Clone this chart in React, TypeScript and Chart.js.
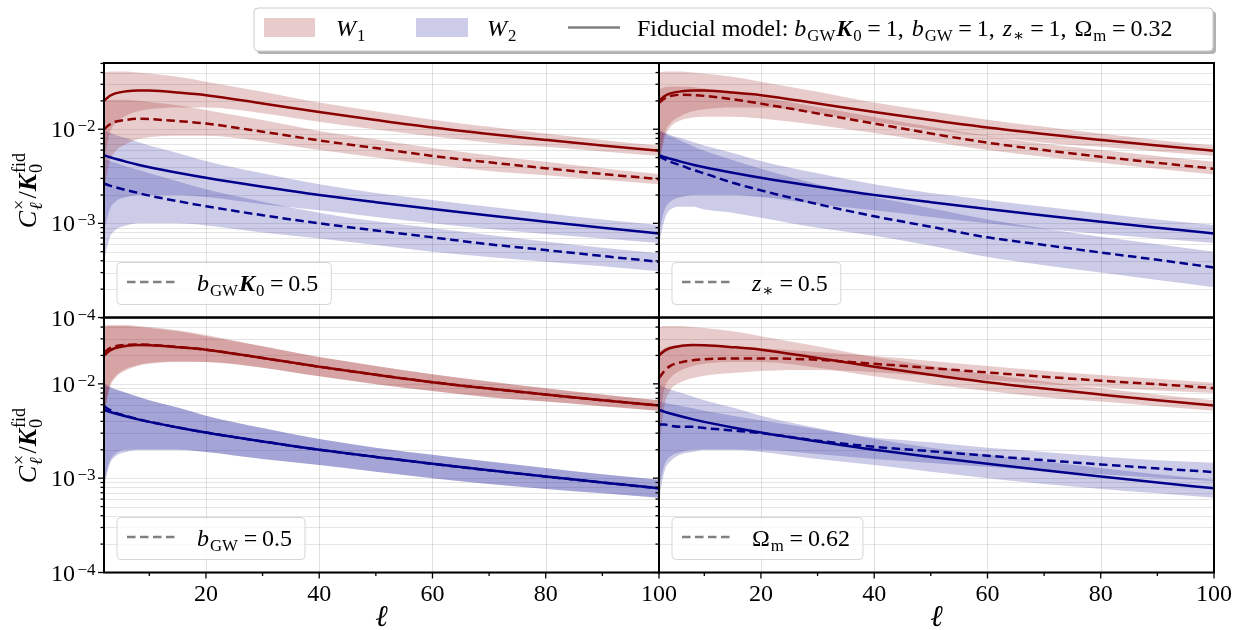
import React, { useEffect, useRef } from "react";
import { Chart, registerables } from "chart.js";
Chart.register(...registerables);

const W = 1247;
const H = 630;
const FAM = '"Liberation Serif", "Times New Roman", "DejaVu Serif", serif';

// multipole sample points
const ELL = [2, 3, 4, 6, 8, 10, 15, 20, 30, 40, 50, 60, 70, 80, 90, 100];

// Fiducial model (same in every panel)
const W1_FID = [0.0200, 0.0225, 0.0240, 0.0253, 0.0258, 0.0257, 0.0245, 0.0230, 0.0188, 0.0152, 0.0125, 0.0104, 0.0089, 0.0077, 0.0067, 0.0059];
const W1_FID_HI = [0.040, 0.041, 0.041, 0.041, 0.040, 0.039, 0.036, 0.032, 0.025, 0.0192, 0.0155, 0.0126, 0.0106, 0.0090, 0.0077, 0.0067];
const W1_FID_LO = [0.0045, 0.0090, 0.0115, 0.0140, 0.0155, 0.0163, 0.0170, 0.0170, 0.0148, 0.0120, 0.0099, 0.0084, 0.0072, 0.0065, 0.0058, 0.0052];
const W2_FID = [0.0053, 0.00505, 0.00485, 0.0045, 0.0042, 0.00395, 0.00345, 0.00305, 0.00245, 0.0020, 0.00168, 0.00142, 0.00121, 0.00104, 0.00090, 0.00078];
const W2_FID_HI = [0.0098, 0.0092, 0.0087, 0.0080, 0.0073, 0.0067, 0.0056, 0.0046, 0.0034, 0.0026, 0.0021, 0.00177, 0.00150, 0.00128, 0.00110, 0.00096];
const W2_FID_LO = [0.0008, 0.0014, 0.0017, 0.0019, 0.0020, 0.0020, 0.0020, 0.0019, 0.0016, 0.00138, 0.00117, 0.00100, 0.00087, 0.00077, 0.00069, 0.00062];

// Panel A: b_GW K_0 = 0.5
const W1_A = [0.0100, 0.0112, 0.0120, 0.0126, 0.0129, 0.0128, 0.0122, 0.0115, 0.0094, 0.0076, 0.0063, 0.0052, 0.00445, 0.00385, 0.00335, 0.00295];
const W1_A_HI = [0.0200, 0.0205, 0.0205, 0.0205, 0.0200, 0.0195, 0.0180, 0.0160, 0.0125, 0.0096, 0.0078, 0.0063, 0.0053, 0.0045, 0.00385, 0.00335];
const W1_A_LO = [0.0022, 0.0045, 0.0058, 0.0070, 0.0078, 0.0082, 0.0085, 0.0085, 0.0074, 0.0060, 0.0050, 0.0042, 0.0036, 0.00325, 0.0029, 0.0026];
const W2_A = [0.00265, 0.00252, 0.00242, 0.00225, 0.0021, 0.00197, 0.00172, 0.00152, 0.00122, 0.0010, 0.00084, 0.00071, 0.00060, 0.00052, 0.00045, 0.00039];
const W2_A_HI = [0.0049, 0.0046, 0.0044, 0.0040, 0.0037, 0.0034, 0.0028, 0.0023, 0.0017, 0.0013, 0.00105, 0.00089, 0.00075, 0.00064, 0.00055, 0.00048];
const W2_A_LO = [0.0004, 0.0007, 0.00085, 0.00095, 0.0010, 0.0010, 0.0010, 0.00095, 0.0008, 0.00069, 0.00059, 0.0005, 0.00044, 0.00039, 0.00035, 0.00031];

// Panel B: z_* = 0.5
const W1_B = [0.0190, 0.0212, 0.0225, 0.0232, 0.0231, 0.0226, 0.0208, 0.0187, 0.0147, 0.0115, 0.0090, 0.0072, 0.0060, 0.0051, 0.0044, 0.0038];
const W1_B_HI = [0.026, 0.028, 0.0285, 0.0285, 0.028, 0.027, 0.0245, 0.0220, 0.0172, 0.0135, 0.0106, 0.0085, 0.0070, 0.0060, 0.0052, 0.0045];
const W1_B_LO = [0.0040, 0.0080, 0.0105, 0.0125, 0.0133, 0.0136, 0.0136, 0.0130, 0.0111, 0.0091, 0.0074, 0.0060, 0.0051, 0.0044, 0.0038, 0.0033];
const W2_B = [0.0052, 0.0048, 0.0045, 0.0041, 0.0037, 0.0034, 0.0027, 0.00224, 0.0016, 0.00119, 0.00092, 0.00071, 0.00059, 0.00049, 0.00041, 0.00034];
const W2_B_HI = [0.0096, 0.0090, 0.0084, 0.0075, 0.0066, 0.0059, 0.0047, 0.0038, 0.0026, 0.0019, 0.00145, 0.00110, 0.00088, 0.00072, 0.0006, 0.0005];
const W2_B_LO = [0.0006, 0.0011, 0.0014, 0.0015, 0.0015, 0.0014, 0.0013, 0.00115, 0.0009, 0.00074, 0.00058, 0.00044, 0.00036, 0.00030, 0.00025, 0.00021];

// Panel C: b_GW = 0.5
const W1_C = [0.0215, 0.0238, 0.0250, 0.0259, 0.0261, 0.0259, 0.0246, 0.0230, 0.0188, 0.0152, 0.0125, 0.0104, 0.0089, 0.0077, 0.0067, 0.0059];
const W1_C_HI = [0.042, 0.042, 0.042, 0.042, 0.041, 0.040, 0.037, 0.033, 0.025, 0.0192, 0.0155, 0.0126, 0.0106, 0.0090, 0.0077, 0.0067];
const W1_C_LO = [0.0050, 0.0095, 0.0120, 0.0145, 0.0158, 0.0166, 0.0172, 0.0170, 0.0148, 0.0120, 0.0099, 0.0084, 0.0072, 0.0065, 0.0058, 0.0052];
const W2_C = [0.0058, 0.0053, 0.00495, 0.00455, 0.00422, 0.00396, 0.00345, 0.00305, 0.00245, 0.0020, 0.00168, 0.00142, 0.00121, 0.00104, 0.00090, 0.00078];
const W2_C_HI = [0.0100, 0.0094, 0.0088, 0.0080, 0.0073, 0.0067, 0.0056, 0.0046, 0.0034, 0.0026, 0.0021, 0.00177, 0.00150, 0.00128, 0.00110, 0.00096];
const W2_C_LO = [0.0009, 0.0015, 0.0018, 0.0020, 0.0020, 0.0020, 0.0020, 0.0019, 0.0016, 0.00138, 0.00117, 0.00100, 0.00087, 0.00077, 0.00069, 0.00062];

// Panel D: Omega_m = 0.62
const W1_D = [0.0115, 0.0138, 0.0155, 0.0170, 0.0178, 0.0182, 0.0186, 0.0186, 0.0180, 0.0163, 0.0147, 0.0132, 0.0119, 0.0108, 0.0099, 0.0090];
const W1_D_HI = [0.022, 0.024, 0.025, 0.026, 0.026, 0.0258, 0.0250, 0.0240, 0.0218, 0.0197, 0.0175, 0.0155, 0.0138, 0.0124, 0.0113, 0.0103];
const W1_D_LO = [0.0020, 0.0060, 0.0085, 0.0105, 0.0115, 0.0122, 0.0130, 0.0137, 0.0140, 0.0133, 0.0121, 0.0110, 0.0100, 0.0092, 0.0085, 0.0080];
const W2_D = [0.0037, 0.0037, 0.0036, 0.0035, 0.0035, 0.0034, 0.0032, 0.0030, 0.0025, 0.00215, 0.00193, 0.00173, 0.00155, 0.0014, 0.00127, 0.00116];
const W2_D_HI = [0.0065, 0.0063, 0.0061, 0.0058, 0.0055, 0.0052, 0.0046, 0.0041, 0.0033, 0.0027, 0.0024, 0.0021, 0.0019, 0.0017, 0.00155, 0.00146];
const W2_D_LO = [0.0006, 0.0012, 0.0015, 0.0018, 0.0019, 0.0020, 0.0020, 0.0020, 0.0018, 0.0016, 0.00145, 0.00132, 0.00120, 0.00110, 0.00101, 0.00093];

// axes
const X_MIN = 2;
const X_MAX = 100;
const Y_MIN = 1e-4;
const Y_MAX = 0.0505;
const X_MAJOR = [20, 40, 60, 80, 100];
const X_MINOR = [10, 30, 50, 70, 90];
const X_LABELS = ["20", "40", "60", "80", "100"];
const Y_MAJOR = [1e-4, 1e-3, 1e-2];
const Y_EXP = ["\u22124", "\u22123", "\u22122"];
const Y_MANT = [1, 2, 3, 4, 5, 6, 7, 8, 9];
const Y_DECADES = [1e-4, 1e-3, 1e-2];

const RED = "#8b0000";
const BLUE = "#00008b";
const RED_BAND = "rgba(139,0,0,0.2)";
const BLUE_BAND = "rgba(0,0,139,0.2)";
const DASH = [8.5, 4.5];

type Seg = { t: string; f?: "n" | "i" | "bi"; sub?: string; subF?: "n" | "i"; sup?: string };

function fnt(f: string | undefined, size: number) {
  const st = f === "i" ? "italic " : f === "bi" ? "italic bold " : "";
  return `${st}${size}px ${FAM}`;
}

function richWidth(ctx: CanvasRenderingContext2D, segs: Seg[], size: number) {
  let w = 0;
  for (const s of segs) {
    ctx.font = fnt(s.f, size);
    w += ctx.measureText(s.t).width;
    let sw = 0;
    if (s.sub) {
      ctx.font = fnt(s.subF, size * 0.7);
      sw = Math.max(sw, ctx.measureText(s.sub).width);
    }
    if (s.sup) {
      ctx.font = fnt("n", size * 0.7);
      sw = Math.max(sw, ctx.measureText(s.sup).width);
    }
    if (sw) w += sw + size * 0.08;
  }
  return w;
}

function drawRich(ctx: CanvasRenderingContext2D, x: number, y: number, segs: Seg[], size: number, color: string) {
  ctx.fillStyle = color;
  ctx.textBaseline = "alphabetic";
  ctx.textAlign = "left";
  let cx = x;
  for (const s of segs) {
    ctx.font = fnt(s.f, size);
    ctx.fillText(s.t, cx, y);
    cx += ctx.measureText(s.t).width;
    let sw = 0;
    if (s.sub) {
      ctx.font = fnt(s.subF, size * 0.7);
      ctx.fillText(s.sub, cx + 1, y + size * 0.22);
      sw = Math.max(sw, ctx.measureText(s.sub).width);
    }
    if (s.sup) {
      ctx.font = fnt("n", size * 0.7);
      ctx.fillText(s.sup, cx + 1, y - size * 0.42);
      sw = Math.max(sw, ctx.measureText(s.sup).width);
    }
    if (sw) cx += sw + size * 0.08;
  }
  return cx - x;
}

const LEG_A: Seg[] = [{ t: "b", f: "i", sub: "GW" }, { t: "K", f: "bi", sub: "0" }, { t: "\u2009=\u20090.5" }];
const LEG_B: Seg[] = [{ t: "z", f: "i", sub: "\u2217" }, { t: "\u2009=\u20090.5" }];
const LEG_C: Seg[] = [{ t: "b", f: "i", sub: "GW" }, { t: "\u2009=\u20090.5" }];
const LEG_D: Seg[] = [{ t: "\u03A9", sub: "m" }, { t: "\u2009=\u20090.62" }];

const TOP_W1: Seg[] = [{ t: "W", f: "i", sub: "1" }];
const TOP_W2: Seg[] = [{ t: "W", f: "i", sub: "2" }];
const TOP_FID: Seg[] = [
  { t: "Fiducial model: " },
  { t: "b", f: "i", sub: "GW" },
  { t: "K", f: "bi", sub: "0" },
  { t: "\u2009=\u20091,\u2004" },
  { t: "b", f: "i", sub: "GW" },
  { t: "\u2009=\u20091,\u2004" },
  { t: "z", f: "i", sub: "\u2217" },
  { t: "\u2009=\u20091,\u2004" },
  { t: "\u03A9", sub: "m" },
  { t: "\u2009=\u20090.32" },
];
const Y_TITLE: Seg[] = [
  { t: "C", f: "i", sub: "\u2113", subF: "i", sup: "\u00D7" },
  { t: "/" },
  { t: "K", f: "bi", sub: "0", sup: "fid" },
];

type PanelCfg = {
  box: [number, number, number, number];
  yLabels: boolean;
  xLabels: boolean;
  alt: number[][];
  legend: Seg[];
  global: boolean;
};

const PANELS: PanelCfg[] = [
  { box: [104, 63, 659, 317.5], yLabels: true, xLabels: false, alt: [W1_A, W1_A_HI, W1_A_LO, W2_A, W2_A_HI, W2_A_LO], legend: LEG_A, global: false },
  { box: [659, 63, 1214, 317.5], yLabels: false, xLabels: false, alt: [W1_B, W1_B_HI, W1_B_LO, W2_B, W2_B_HI, W2_B_LO], legend: LEG_B, global: false },
  { box: [104, 317.5, 659, 572.5], yLabels: true, xLabels: true, alt: [W1_C, W1_C_HI, W1_C_LO, W2_C, W2_C_HI, W2_C_LO], legend: LEG_C, global: false },
  { box: [659, 317.5, 1214, 572.5], yLabels: false, xLabels: true, alt: [W1_D, W1_D_HI, W1_D_LO, W2_D, W2_D_HI, W2_D_LO], legend: LEG_D, global: true },
];

const pts = (arr: number[]) => ELL.map((x, i) => ({ x, y: arr[i] }));

function lineDs(arr: number[], color: string, dashed: boolean) {
  return {
    data: pts(arr),
    borderColor: color,
    borderWidth: 2.5,
    borderDash: dashed ? DASH : [],
    pointRadius: 0,
    fill: false,
    order: 0,
    cubicInterpolationMode: "monotone" as const,
  };
}
function bandDs(hi: number[], lo: number[], color: string) {
  return [
    { data: pts(hi), borderColor: "rgba(0,0,0,0)", borderWidth: 0, backgroundColor: color, pointRadius: 0, fill: "+1", order: 1, cubicInterpolationMode: "monotone" as const },
    { data: pts(lo), borderColor: "rgba(0,0,0,0)", borderWidth: 0, pointRadius: 0, fill: false, order: 1, cubicInterpolationMode: "monotone" as const },
  ];
}

function drawGlobal(ctx: CanvasRenderingContext2D) {
  ctx.save();
  // top legend with shadow
  const bx = 254, by = 8, bw = 959, bh = 43;
  ctx.fillStyle = "rgba(0,0,0,0.3)";
  ctx.beginPath();
  ctx.roundRect(bx + 3, by + 3, bw, bh, 4);
  ctx.fill();
  ctx.fillStyle = "#ffffff";
  ctx.strokeStyle = "#cccccc";
  ctx.lineWidth = 1;
  ctx.beginPath();
  ctx.roundRect(bx, by, bw, bh, 4);
  ctx.fill();
  ctx.stroke();
  ctx.fillStyle = RED_BAND;
  ctx.fillRect(264, 18, 51, 19);
  ctx.fillStyle = BLUE_BAND;
  ctx.fillRect(416, 18, 52, 19);
  drawRich(ctx, 336, 36, TOP_W1, 24, "#000");
  drawRich(ctx, 487, 36, TOP_W2, 24, "#000");
  ctx.strokeStyle = "#808080";
  ctx.lineWidth = 2.5;
  ctx.setLineDash([]);
  ctx.beginPath();
  ctx.moveTo(568, 27.5);
  ctx.lineTo(620, 27.5);
  ctx.stroke();
  drawRich(ctx, 637, 36, TOP_FID, 24, "#000");

  // y titles (rotated)
  for (const cy of [190, 445]) {
    ctx.save();
    ctx.translate(36, cy);
    ctx.rotate(-Math.PI / 2);
    const w = richWidth(ctx, Y_TITLE, 26);
    drawRich(ctx, -w / 2, 0, Y_TITLE, 26, "#000");
    ctx.restore();
  }
  // x titles
  ctx.fillStyle = "#000";
  ctx.font = fnt("i", 30);
  ctx.textAlign = "center";
  ctx.textBaseline = "alphabetic";
  ctx.fillText("\u2113", 381.5, 626);
  ctx.fillText("\u2113", 936.5, 626);
  ctx.restore();
}

function Panel({ cfg }: { cfg: PanelCfg }) {
  const ref = useRef<HTMLCanvasElement>(null);
  useEffect(() => {
    const [l, t, r, b] = cfg.box;
    const [w1, w1h, w1l, w2, w2h, w2l] = cfg.alt;
    const gridValues: number[] = [];
    for (const d of Y_DECADES) for (const m of Y_MANT) if (d * m <= Y_MAX) gridValues.push(d * m);

    const decor = {
      id: "decor",
      beforeDatasetsDraw(chart: any) {
        const ctx = chart.ctx as CanvasRenderingContext2D;
        const a = chart.chartArea;
        const xs = chart.scales.x;
        const ys = chart.scales.y;
        ctx.save();
        ctx.lineWidth = 1;
        ctx.strokeStyle = "rgba(0,0,0,0.1)";
        for (const v of gridValues) {
          const py = Math.round(ys.getPixelForValue(v)) + 0.5;
          ctx.beginPath();
          ctx.moveTo(a.left, py);
          ctx.lineTo(a.right, py);
          ctx.stroke();
        }
        ctx.strokeStyle = "rgba(0,0,0,0.12)";
        for (const v of X_MAJOR) {
          if (v >= X_MAX) continue;
          const px = Math.round(xs.getPixelForValue(v)) + 0.5;
          ctx.beginPath();
          ctx.moveTo(px, a.top);
          ctx.lineTo(px, a.bottom);
          ctx.stroke();
        }
        ctx.restore();
      },
      afterDraw(chart: any) {
        const ctx = chart.ctx as CanvasRenderingContext2D;
        const a = chart.chartArea;
        const xs = chart.scales.x;
        const ys = chart.scales.y;
        ctx.save();
        ctx.setLineDash([]);
        // y ticks
        ctx.strokeStyle = "#000";
        ctx.lineWidth = 1.3;
        for (const v of gridValues) {
          const py = ys.getPixelForValue(v);
          const major = Y_MAJOR.some((m) => Math.abs(m - v) / m < 1e-6);
          const len = major ? 6 : 3.5;
          ctx.beginPath();
          ctx.moveTo(a.left - len, py);
          ctx.lineTo(a.left, py);
          ctx.stroke();
        }
        if (cfg.xLabels) {
          for (const v of X_MAJOR.concat(X_MINOR)) {
            const px = xs.getPixelForValue(v);
            const len = X_MAJOR.includes(v) ? 6 : 3.5;
            ctx.beginPath();
            ctx.moveTo(px, a.bottom);
            ctx.lineTo(px, a.bottom + len);
            ctx.stroke();
          }
          ctx.fillStyle = "#000";
          ctx.font = fnt("n", 24);
          ctx.textAlign = "center";
          ctx.textBaseline = "alphabetic";
          X_MAJOR.forEach((v, i) => {
            ctx.fillText(X_LABELS[i], xs.getPixelForValue(v), 600.5);
          });
        }
        if (cfg.yLabels) {
          Y_MAJOR.forEach((v, i) => {
            const py = ys.getPixelForValue(v);
            ctx.font = fnt("n", 17);
            const we = ctx.measureText(Y_EXP[i]).width;
            ctx.font = fnt("n", 24);
            const wb = ctx.measureText("10").width;
            const x0 = a.left - 8 - we - 3 - wb;
            ctx.fillStyle = "#000";
            ctx.textAlign = "left";
            ctx.textBaseline = "alphabetic";
            ctx.fillText("10", x0, py + 8);
            ctx.font = fnt("n", 17);
            ctx.fillText(Y_EXP[i], x0 + wb + 2.5, py + 2);
          });
        }
        // spines
        ctx.strokeStyle = "#000";
        ctx.lineWidth = 2;
        ctx.strokeRect(a.left, a.top, a.right - a.left, a.bottom - a.top);

        // inner legend
        const tw = richWidth(ctx, cfg.legend, 24);
        const lx = a.left + 13;
        const ly = a.bottom - 55;
        const lw = 80 + tw + 13;
        const lh = 42;
        ctx.fillStyle = "rgba(255,255,255,0.8)";
        ctx.strokeStyle = "rgba(204,204,204,0.8)";
        ctx.lineWidth = 1;
        ctx.beginPath();
        ctx.roundRect(lx, ly, lw, lh, 4);
        ctx.fill();
        ctx.stroke();
        ctx.strokeStyle = "#808080";
        ctx.lineWidth = 2.5;
        ctx.setLineDash(DASH);
        ctx.beginPath();
        ctx.moveTo(lx + 10, ly + 19.5);
        ctx.lineTo(lx + 60, ly + 19.5);
        ctx.stroke();
        ctx.setLineDash([]);
        drawRich(ctx, lx + 80, ly + 28, cfg.legend, 24, "#000");
        ctx.restore();
        if (cfg.global) drawGlobal(ctx);
      },
    };

    const chart = new Chart(ref.current as HTMLCanvasElement, {
      type: "line",
      data: {
        datasets: [
          lineDs(W1_FID, RED, false),
          lineDs(w1, RED, true),
          lineDs(W2_FID, BLUE, false),
          lineDs(w2, BLUE, true),
          ...bandDs(W1_FID_HI, W1_FID_LO, RED_BAND),
          ...bandDs(w1h, w1l, RED_BAND),
          ...bandDs(W2_FID_HI, W2_FID_LO, BLUE_BAND),
          ...bandDs(w2h, w2l, BLUE_BAND),
        ] as any,
      },
      options: {
        responsive: false,
        animation: false,
        devicePixelRatio: 1,
        layout: { padding: { left: l, top: t, right: W - r, bottom: H - b } },
        plugins: { legend: { display: false }, tooltip: { enabled: false } },
        scales: {
          x: { type: "linear", min: X_MIN, max: X_MAX, display: false },
          y: { type: "logarithmic", min: Y_MIN, max: Y_MAX, display: false },
        },
      },
      plugins: [decor],
    });
    return () => chart.destroy();
  }, []);
  return (
    <canvas
      ref={ref}
      width={W}
      height={H}
      style={{ position: "absolute", left: 0, top: 0, width: W, height: H }}
    />
  );
}

export default function App() {
  return (
    <div style={{ position: "fixed", left: 0, top: 0, width: W, height: H, background: "#fff", overflow: "hidden" }}>
      {PANELS.map((p, i) => (
        <Panel key={i} cfg={p} />
      ))}
    </div>
  );
}
